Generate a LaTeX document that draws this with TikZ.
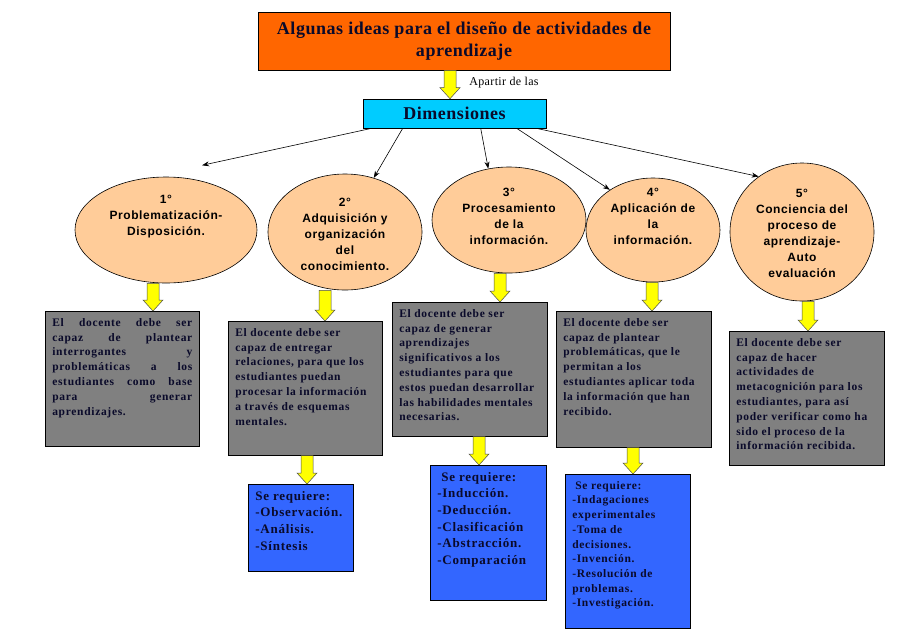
\documentclass[tikz,border=0pt]{standalone}
\usepackage{fontspec}
\setmainfont{Liberation Serif}
\setsansfont{Liberation Sans}
\newfontfamily\titulofont[LetterSpace=3]{Liberation Serif}
\newfontfamily\cajafont[LetterSpace=6]{Liberation Serif}
\newfontfamily\elipsefont[LetterSpace=5]{Liberation Sans}
\usetikzlibrary{arrows.meta,shapes.geometric,calc}

\definecolor{naranja}{HTML}{FF6600}
\definecolor{celeste}{HTML}{00CCFF}
\definecolor{durazno}{HTML}{FFCC99}
\definecolor{gris}{HTML}{808080}
\definecolor{azul}{HTML}{3366FF}
\definecolor{amarillo}{HTML}{FFFF00}
\definecolor{tinta}{HTML}{0A0A2A}

% flecha amarilla: posicion x, nodo de salida, nodo de llegada
\newcommand{\flechagorda}[3]{%
  \draw[flechaam] let \p1=(#2.south), \p2=(#3.north) in
    (#1pt-6pt,\y1) -- (#1pt+6pt,\y1) -- (#1pt+6pt,\y2+11pt) -- (#1pt+10pt,\y2+11pt)
    -- (#1pt,\y2) -- (#1pt-10pt,\y2+11pt) -- (#1pt-6pt,\y2+11pt) -- cycle;}

\begin{document}
\begin{tikzpicture}[x=1pt, y=-1pt, -{Stealth[length=7pt,width=5pt]}, line width=0.6pt,
      every node/.append style={inner sep=0pt, text=tinta}]
    \tikzstyle{titulo} = [draw, fill=naranja, minimum width=412pt, minimum height=58pt,
      align=center, font=\titulofont\bfseries\fontsize{18}{22}\selectfont]
    \tikzstyle{dimension} = [draw, fill=celeste, minimum width=183pt, minimum height=29pt,
      font=\titulofont\bfseries\fontsize{18}{22}\selectfont]
    \tikzstyle{elipse} = [draw, fill=durazno, ellipse]
    \tikzstyle{etexto} = [align=center, text=black, font=\elipsefont\bfseries\fontsize{12}{16}\selectfont]
    \tikzstyle{grisbox} = [draw, fill=gris, anchor=north west, inner xsep=7pt, inner ysep=7pt,
      font=\cajafont\bfseries\fontsize{11.5}{14.8}\selectfont]
    \tikzstyle{azulbox} = [draw, fill=azul, anchor=north west, inner xsep=7pt, inner ysep=7pt,
      font=\cajafont\bfseries\fontsize{13}{16.6}\selectfont]
    \tikzstyle{flechaam} = [-, draw=black!70, fill=amarillo, line width=0.5pt]
    \useasboundingbox (0,0) rectangle (897,630);

    \node[titulo] (titulo) at (464,41) {Algunas ideas para el diseño de actividades de\\aprendizaje};
    \node[dimension] (dim) at (454.5,113.5) {Dimensiones};
    \node[font=\titulofont\fontsize{12}{14}\selectfont, text=black] (apartir) at (504,83) {Apartir de las};
    \flechagorda{450}{titulo}{dim}

    % las cinco dimensiones
    \node[elipse, minimum width=182pt, minimum height=106pt] (e1) at (166,230) {};
    \node[elipse, minimum width=154pt, minimum height=116pt] (e2) at (345,232) {};
    \node[elipse, minimum width=154pt, minimum height=106pt] (e3) at (509,220) {};
    \node[elipse, minimum width=134pt, minimum height=104pt] (e4) at (653,230) {};
    \node[elipse, minimum width=144pt, minimum height=138pt] (e5) at (802,232) {};
    \node[etexto] (t1) at (166,217) {1°\\Problematización-\\Disposición.};
    \node[etexto] (t2) at (345,234) {2°\\Adquisición y\\organización\\del\\conocimiento.};
    \node[etexto] (t3) at (509,216) {3°\\Procesamiento\\de la\\información.};
    \node[etexto] (t4) at (653,216) {4°\\Aplicación de\\la\\información.};
    \node[etexto] (t5) at (802,233) {5°\\Conciencia del\\proceso de\\aprendizaje-\\Auto\\evaluación};

    \draw ([xshift=9pt]dim.south west) -- ([xshift=8pt,yshift=14pt]e1.61);
    \draw ([xshift=40pt]dim.south west) -- (e2.62);
    \draw ([xshift=118pt]dim.south west) -- (e3.112);
    \draw ([xshift=154pt]dim.south west) -- (e4.137);
    \draw ([xshift=-10pt]dim.south east) -- (e5.128);

    % lo que debe hacer el docente
    \node[grisbox] (g1) at (45,311) {\parbox[t][121pt][t]{140pt}{El docente debe ser\linebreak
      capaz de plantear\linebreak interrogantes y\linebreak problemáticas a los\linebreak
      estudiantes como base\linebreak para generar\linebreak aprendizajes.}};
    \node[grisbox] (g2) at (228,321) {\parbox[t][120pt][t]{140pt}{\raggedright El docente debe ser\\
      capaz de entregar\\ relaciones, para que los\\ estudiantes puedan\\
      procesar la información\\ a través de esquemas\\ mentales.}};
    \node[grisbox] (g3) at (392,302) {\parbox[t][120pt][t]{141pt}{\raggedright El docente debe ser\\
      capaz de generar\\ aprendizajes\\ significativos a los\\ estudiantes para que\\
      estos puedan desarrollar\\ las habilidades mentales\\ necesarias.}};
    \node[grisbox] (g4) at (556,311) {\parbox[t][122pt][t]{141pt}{\raggedright El docente debe ser\\
      capaz de plantear\\ problemáticas, que le\\ permitan a los\\
      estudiantes aplicar toda\\ la información que han\\ recibido.}};
    \node[grisbox] (g5) at (729,331) {\parbox[t][120pt][t]{141pt}{\raggedright El docente debe ser\\
      capaz de hacer\\ actividades de\\ metacognición para los\\ estudiantes, para así\\
      poder verificar como ha\\ sido el proceso de la\\ información recibida.}};

    % lo que se requiere
    \node[azulbox] (b2) at (248,484) {\parbox[t][73pt][t]{91pt}{\raggedright Se requiere:\\
      -Observación.\\ -Análisis.\\ -Síntesis}};
    \node[azulbox] (b3) at (430,465) {\parbox[t][121pt][t]{102pt}{\raggedright \hspace*{4pt}Se requiere:\\
      -Inducción.\\ -Deducción.\\ -Clasificación\\ -Abstracción.\\ -Comparación}};
    \node[azulbox, font=\cajafont\bfseries\fontsize{11.5}{14.7}\selectfont] (b4) at (565,474)
      {\parbox[t][140pt][t]{111pt}{\raggedright \hspace*{3pt}Se requiere:\\ -Indagaciones\\
      experimentales\\ -Toma de\\ decisiones.\\ -Invención.\\ -Resolución de\\ problemas.\\ -Investigación.}};

    \flechagorda{153}{e1}{g1}
    \flechagorda{325}{e2}{g2}
    \flechagorda{500}{e3}{g3}
    \flechagorda{652}{e4}{g4}
    \flechagorda{808}{e5}{g5}
    \flechagorda{307}{g2}{b2}
    \flechagorda{479}{g3}{b3}
    \flechagorda{633}{g4}{b4}
\end{tikzpicture}
\end{document}
